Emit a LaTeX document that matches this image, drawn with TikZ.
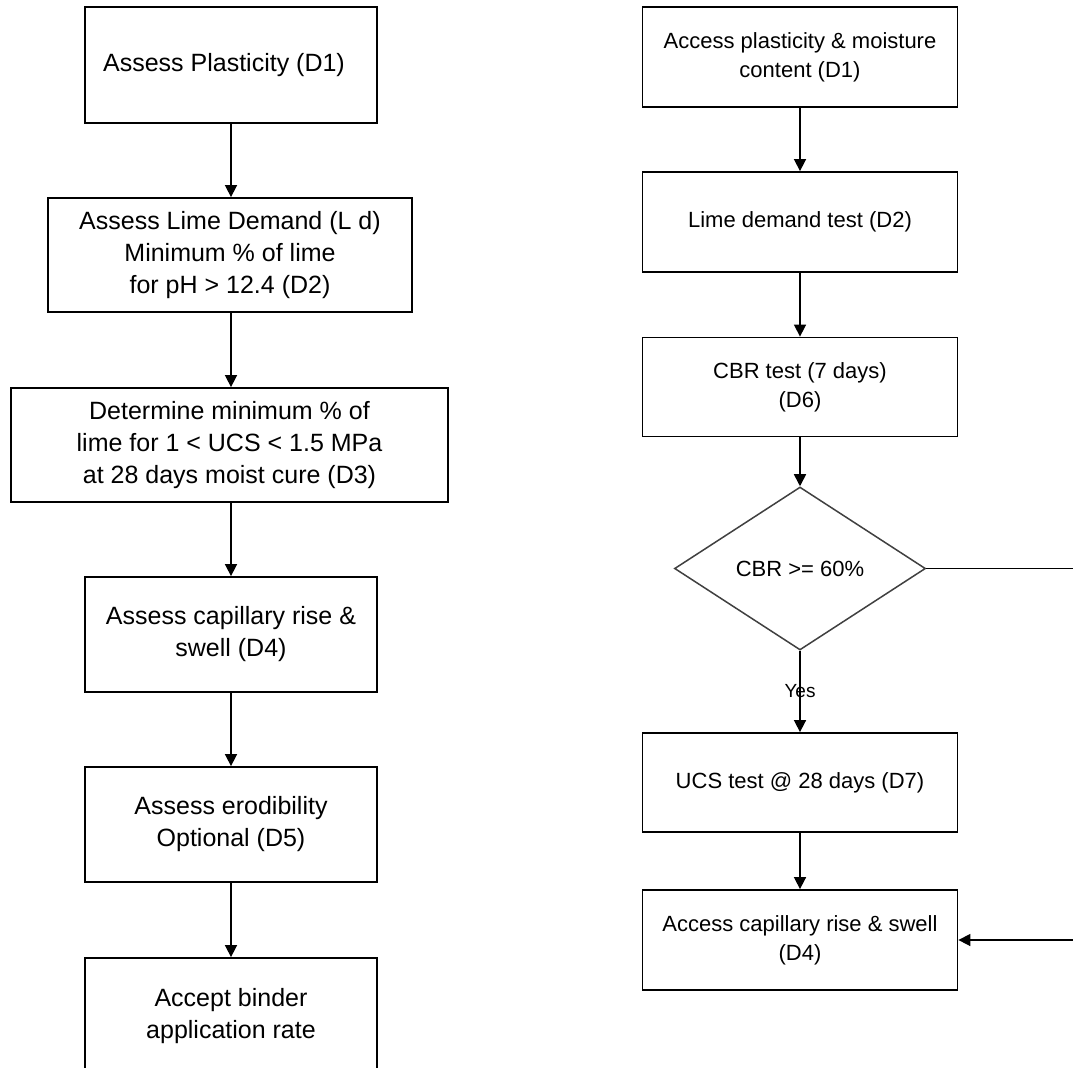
\documentclass[tikz,border=0pt]{standalone}
\usepackage{fontspec}
\setmainfont{Liberation Sans}
\usetikzlibrary{arrows.meta,shapes.geometric}

\tikzset{
  box/.style={draw, line width=1.8bp, rectangle, inner sep=0pt, align=center},
  bigtext/.style={font=\fontsize{25bp}{32bp}\selectfont},
  smalltext/.style={font=\fontsize{22bp}{29bp}\selectfont},
  decision/.style={draw=black!75, line width=1.5bp, diamond, inner sep=0pt, align=center,
    minimum width=251bp, minimum height=163bp, aspect=1.54},
  flow/.style={line width=1.6bp, -{Triangle[length=12bp,width=12bp]}},
  edgelabel/.style={font=\fontsize{19bp}{23bp}\selectfont}
}

\begin{document}
\begin{tikzpicture}[x=1bp, y=-1bp]
  \fill[white] (0,0) rectangle (1073,1068);
  \useasboundingbox (0,0) rectangle (1073,1068);
  \clip (0,0) rectangle (1073,1068);

  % left procedure
  \node[box, bigtext, minimum width=292bp, minimum height=116bp] (l1) at (231,65)
    {Assess Plasticity (D1)\hspace{14bp}};
  \node[box, bigtext, minimum width=364bp, minimum height=114bp] (l2) at (230,255)
    {Assess Lime Demand (L d)\\Minimum \% of lime\\for pH > 12.4 (D2)};
  \node[box, bigtext, minimum width=437bp, minimum height=114bp] (l3) at (229.5,445)
    {Determine minimum \% of\\lime for 1 < UCS < 1.5 MPa\\at 28 days moist cure (D3)};
  \node[box, bigtext, minimum width=292bp, minimum height=115bp] (l4) at (231,634.5)
    {Assess capillary rise \&\\swell (D4)};
  \node[box, bigtext, minimum width=292bp, minimum height=115bp] (l5) at (231,824.5)
    {Assess erodibility\\Optional (D5)};
  \node[box, bigtext, minimum width=292bp, minimum height=116bp] (l6) at (231,1016)
    {Accept binder\\application rate};

  \draw[flow] (l1.south) -- (l1.south |- l2.north);
  \draw[flow] (l1.south |- l2.south) -- (l1.south |- l3.north);
  \draw[flow] (l1.south |- l3.south) -- (l4.north);
  \draw[flow] (l4) -- (l5);
  \draw[flow] (l5) -- (l6);

  % right procedure
  \node[box, smalltext, minimum width=315bp, minimum height=100bp] (r1) at (800,57)
    {Access plasticity \& moisture\\content (D1)};
  \node[box, smalltext, minimum width=315bp, minimum height=100bp] (r2) at (800,222)
    {Lime demand test (D2)};
  \node[box, smalltext, minimum width=315bp, minimum height=99bp] (r3) at (800,387)
    {CBR test (7 days)\\(D6)};
  \node[decision, smalltext] (d1) at (800,568.5) {CBR >= 60\%};
  \node[box, smalltext, minimum width=315bp, minimum height=99bp] (r4) at (800,782.5)
    {UCS test @ 28 days (D7)};
  \node[box, smalltext, minimum width=315bp, minimum height=100bp] (r5) at (800,940)
    {Access capillary rise \& swell\\(D4)};

  \coordinate (bendtop) at (1085,568.5);
  \coordinate (bendbot) at (1085,940);

  \draw[flow] (r1) -- (r2);
  \draw[flow] (r2) -- (r3);
  \draw[flow] (r3) -- (d1);
  \draw[flow] (d1) -- node[edgelabel] {Yes} (r4);
  \draw[flow] (r4) -- (r5);
  \draw[flow] (d1.east) -- (bendtop) -- (bendbot) -- (r5.east);
\end{tikzpicture}
\end{document}
